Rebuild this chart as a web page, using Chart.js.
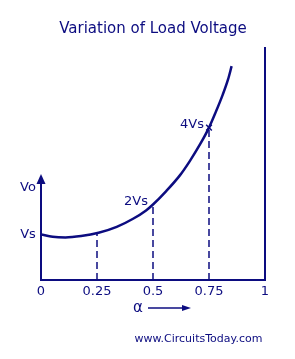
<!DOCTYPE html>
<html>
<head>
<meta charset="utf-8">
<script src="https://cdn.jsdelivr.net/npm/chart.js@4/dist/chart.umd.min.js"></script>
<style>
  html, body { margin: 0; padding: 0; background: #fff; }
  #wrap { width: 295px; height: 359px; position: relative; }
</style>
</head>
<body>
<div id="wrap"><canvas id="load-chart"></canvas></div>
<script>
// values (y in rough "Vs" units)
const curveAlpha = [0, 0.052, 0.109, 0.179, 0.257, 0.338, 0.411, 0.469, 0.5, 0.559, 0.62, 0.665, 0.711, 0.75, 0.78, 0.811, 0.835, 0.851];
const curveVo    = [1.0, 0.95, 0.936, 0.966, 1.037, 1.167, 1.346, 1.53, 1.66, 1.955, 2.30, 2.62, 2.99, 3.35, 3.69, 4.07, 4.41, 4.70];

const markerAlpha  = [0.25, 0.5, 0.75];
const markerVo     = [1.03, 1.66, 3.35];
const markerLabels = ['', '2Vs', '4Vs'];

const xTickValues = [0, 0.25, 0.5, 0.75, 1];
const vsLevel = 1;       // "Vs" on the vertical axis
const voLabelAt = 2.03;  // "Vo" axis label
const axisTop = 2.33;    // arrow tip of the Vo axis

const navy = '#0c0c80';
const font = '"DejaVu Sans", Verdana, sans-serif';

const ctx = document.getElementById('load-chart').getContext('2d');

const dashedSets = markerAlpha.map((a, i) => ({
    type: 'line',
    data: [{x: a, y: 0}, {x: a, y: markerVo[i]}],
    borderColor: navy,
    borderWidth: 1.5,
    borderDash: [7, 4],
    pointRadius: 0,
    fill: false
}));

// extra drawing: Vo axis with arrow, text labels, alpha arrow, watermark
const annotations = {
    id: 'annotations',
    afterDatasetsDraw(chart) {
        const {ctx, scales: {x, y}} = chart;
        const x0 = x.getPixelForValue(0);
        const yb = y.getPixelForValue(0);
        const yt = y.getPixelForValue(axisTop);
        ctx.save();
        ctx.strokeStyle = navy;
        ctx.fillStyle = navy;
        ctx.lineWidth = 2;
        ctx.beginPath();
        ctx.moveTo(x0, yb);
        ctx.lineTo(x0, yt + 6);
        ctx.stroke();
        ctx.beginPath();
        ctx.moveTo(x0, yt);
        ctx.lineTo(x0 - 4.5, yt + 10);
        ctx.lineTo(x0 + 4.5, yt + 10);
        ctx.closePath();
        ctx.fill();

        ctx.font = '13px ' + font;
        ctx.textBaseline = 'middle';
        ctx.textAlign = 'center';
        ctx.fillText('Vo', 28, y.getPixelForValue(voLabelAt));
        ctx.fillText('Vs', 28, y.getPixelForValue(vsLevel));

        ctx.textAlign = 'right';
        markerLabels.forEach((lab, i) => {
            if (!lab) return;
            ctx.fillText(lab, x.getPixelForValue(markerAlpha[i]) - 5, y.getPixelForValue(markerVo[i]) - 3);
        });

        // alpha with arrow
        ctx.textAlign = 'center';
        ctx.font = '15px ' + font;
        ctx.fillText('α', 138, 308);
        ctx.lineWidth = 1.3;
        ctx.beginPath();
        ctx.moveTo(148, 308);
        ctx.lineTo(184, 308);
        ctx.stroke();
        ctx.beginPath();
        ctx.moveTo(191, 308);
        ctx.lineTo(182, 305);
        ctx.lineTo(182, 311);
        ctx.closePath();
        ctx.fill();

        ctx.font = '11px ' + font;
        ctx.fillText('www.CircuitsToday.com', 198.5, 339);
        ctx.restore();
    }
};

const config = {
    type: 'line',
    data: {
        datasets: [{
            label: 'Load voltage',
            data: curveAlpha.map((a, i) => ({x: a, y: curveVo[i]})),
            borderColor: navy,
            borderWidth: 2.5,
            cubicInterpolationMode: 'monotone',
            pointRadius: 0,
            fill: false
        }, {
            type: 'scatter',
            data: [{x: markerAlpha[2], y: markerVo[2]}],
            pointStyle: 'crossRot',
            pointRadius: 4,
            borderColor: navy,
            borderWidth: 1.5
        }, ...dashedSets]
    },
    options: {
        responsive: true,
        maintainAspectRatio: false,
        animation: false,
        layout: { padding: { left: 41, right: 30, top: 0, bottom: 55.4 } },
        plugins: {
            legend: { display: false },
            tooltip: { enabled: false },
            title: {
                display: true,
                text: 'Variation of Load Voltage',
                color: navy,
                font: { family: font, size: 15, weight: 'normal' },
                padding: { top: 20, bottom: 10 }
            }
        },
        scales: {
            x: {
                type: 'linear',
                min: 0,
                max: 1,
                afterBuildTicks: (axis) => { axis.ticks = xTickValues.map(v => ({value: v})); },
                grid: { display: false, drawTicks: false },
                border: { display: true, color: navy, width: 2 },
                ticks: {
                    color: navy,
                    padding: 4,
                    font: { family: font, size: 13 },
                    callback: (value) => String(value)
                }
            },
            y: {
                min: 0,
                max: 5.1,
                display: false
            },
            y2: {
                position: 'right',
                grid: { display: false, drawTicks: false },
                border: { display: true, color: navy, width: 2 },
                ticks: { display: false }
            }
        }
    },
    plugins: [annotations]
};

let loadChart = new Chart(ctx, config);
</script>
</body>
</html>
